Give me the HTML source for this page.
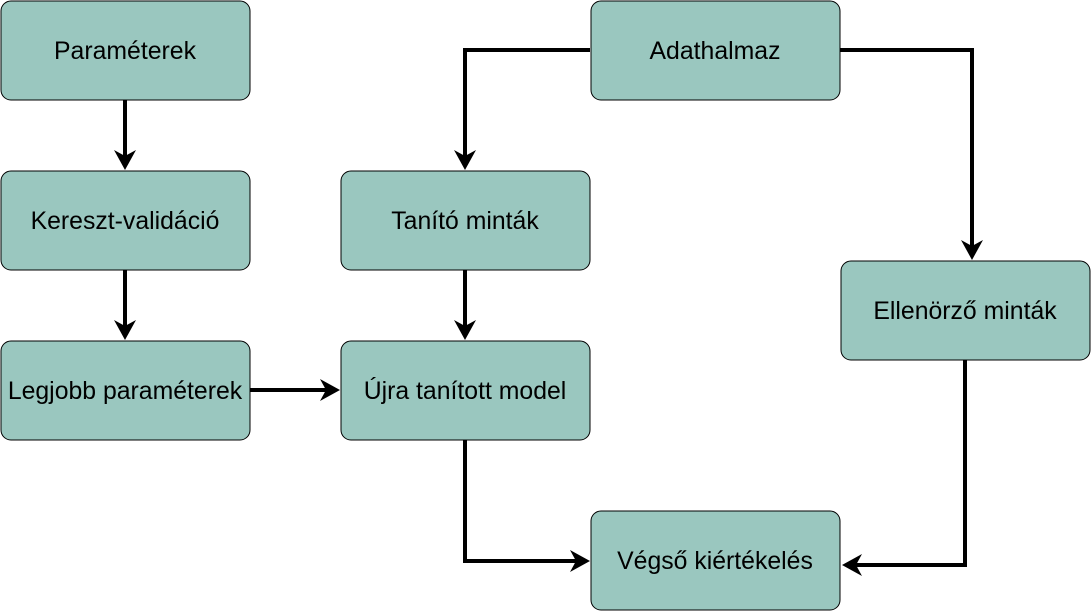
<!DOCTYPE html>
<html><head><meta charset="utf-8"><style>
html,body{margin:0;padding:0;background:#fff;}
svg{display:block;}
text{font-family:"Liberation Sans",sans-serif;font-size:24.8px;fill:#000;}
</style></head><body>
<svg width="1091" height="611" viewBox="0 0 1091 611" xmlns="http://www.w3.org/2000/svg">
<g fill="#9AC7BF" stroke="#000" stroke-width="1">
<rect x="1" y="1" width="249" height="99" rx="10"/>
<rect x="1" y="171" width="249" height="99" rx="10"/>
<rect x="1" y="341" width="249" height="99" rx="10"/>
<rect x="341" y="171" width="249" height="99" rx="10"/>
<rect x="341" y="341" width="249" height="99" rx="10"/>
<rect x="591" y="1" width="249" height="99" rx="10"/>
<rect x="841" y="261" width="249" height="99" rx="10"/>
<rect x="591" y="511" width="249" height="99" rx="10"/>
</g>
<g fill="none" stroke="#000" stroke-width="4">
<path d="M125 100 V158"/>
<path d="M125 270 V328"/>
<path d="M250 390 H328"/>
<path d="M465 270 V328"/>
<path d="M590 50 H465 V158"/>
<path d="M840 50 H972 V248"/>
<path d="M965 360 V565 H854"/>
<path d="M465 440 V561 H578"/>
</g>
<g fill="#000">
<polygon points="125,170 114,150 125,156 136,150"/>
<polygon points="125,340 114,320 125,326 136,320"/>
<polygon points="465,340 454,320 465,326 476,320"/>
<polygon points="465,170 454,150 465,156 476,150"/>
<polygon points="972,260 961,240 972,246 983,240"/>
<polygon points="340,390 320,379 326,390 320,401"/>
<polygon points="590,561 570,550 576,561 570,572"/>
<polygon points="842,565 862,554 856,565 862,576"/>
</g>
<g text-anchor="middle">
<text x="125" y="59">Paraméterek</text>
<text x="125" y="229">Kereszt-validáció</text>
<text x="125" y="399">Legjobb paraméterek</text>
<text x="465" y="229">Tanító minták</text>
<text x="465" y="399">Újra tanított model</text>
<text x="715" y="59">Adathalmaz</text>
<text x="965" y="319">Ellenörző minták</text>
<text x="715" y="569">Végső kiértékelés</text>
</g>
</svg>
</body></html>
